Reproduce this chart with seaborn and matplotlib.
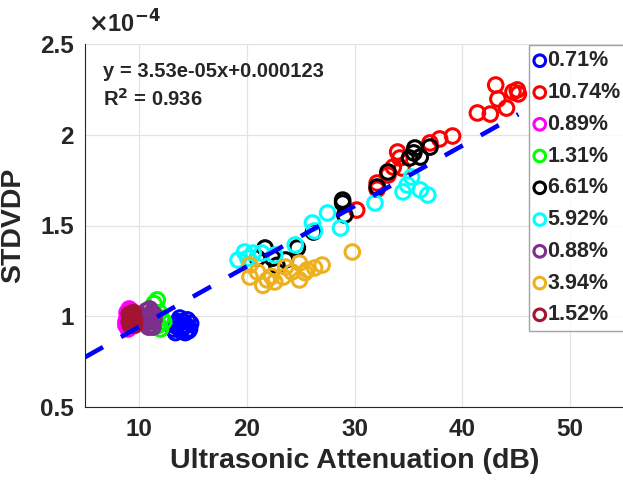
import matplotlib
matplotlib.use("Agg")
import matplotlib.pyplot as plt
import seaborn as sns
import numpy as np

# values in units of 1e-4
labels = ["0.71%", "10.74%", "0.89%", "1.31%", "6.61%", "5.92%", "0.88%", "3.94%", "1.52%"]
colors = ["#0000ff", "#ff0000", "#ff00ff", "#00ff00", "#000000", "#00ffff",
          "#7e2f8e", "#edb120", "#a2142f"]

x_071 = [13.2, 13.5, 13.8, 14.1, 14.4, 14.7, 13.4, 13.9, 14.3, 14.8, 13.6, 14.0, 14.5, 13.3, 14.6]
y_071 = [0.93, 0.96, 0.99, 0.97, 0.95, 0.93, 0.91, 0.92, 0.91, 0.96, 0.97, 0.94, 0.98, 0.95, 0.92]

x_1074 = [43.1, 45.1, 45.2, 44.7, 43.3, 44.1, 41.4, 42.6, 39.1, 37.9, 37.0, 34.0, 34.2, 34.4,
          33.6, 32.1, 33.1, 30.2, 32.1]
y_1074 = [2.274, 2.247, 2.225, 2.236, 2.197, 2.147, 2.12, 2.114, 1.993, 1.977, 1.955, 1.905,
          1.872, 1.817, 1.822, 1.734, 1.778, 1.585, 1.70]

x_089 = [8.8, 8.9, 9.1, 9.3, 8.9, 9.2, 9.0, 9.3, 8.8, 9.1]
y_089 = [0.95, 0.99, 1.04, 1.03, 1.02, 0.96, 0.93, 0.98, 0.97, 1.01]

x_131 = [11.7, 11.4, 11.9, 12.1, 12.3, 11.8, 12.0, 11.6]
y_131 = [1.09, 1.07, 1.02, 0.99, 0.97, 0.95, 0.93, 1.0]

x_661 = [35.6, 37.0, 36.1, 35.1, 33.1, 32.1, 28.9, 28.9, 29.1, 26.2, 24.7, 23.6, 21.7, 22.4, 21.0,
         35.5, 22.8]
y_661 = [1.927, 1.932, 1.877, 1.872, 1.795, 1.712, 1.64, 1.624, 1.558, 1.464, 1.376, 1.31, 1.376,
         1.32, 1.32, 1.90, 1.28]

x_592 = [35.3, 34.9, 34.5, 36.1, 36.8, 31.9, 28.7, 27.5, 26.1, 24.5, 22.6, 19.2, 19.8, 20.6,
         21.4, 20.1, 26.3]
y_592 = [1.767, 1.723, 1.685, 1.696, 1.668, 1.624, 1.486, 1.569, 1.514, 1.393, 1.337, 1.31,
         1.354, 1.348, 1.348, 1.32, 1.47]

x_088 = [10.6, 10.8, 11.0, 11.2, 11.4, 10.7, 10.9, 11.1, 11.3, 10.8, 11.0, 11.2, 11.4, 10.6]
y_088 = [0.96, 1.0, 1.04, 1.02, 0.98, 1.03, 0.94, 0.95, 0.94, 0.97, 0.99, 0.97, 1.01, 1.0]

x_394 = [29.8, 27.0, 26.3, 25.6, 24.9, 24.2, 24.9, 23.4, 22.6, 21.9, 21.0, 20.3, 20.3, 21.5, 23.6,
         22.3, 25.4]
y_394 = [1.354, 1.282, 1.266, 1.255, 1.293, 1.244, 1.2, 1.216, 1.189, 1.2, 1.244, 1.216, 1.282,
         1.17, 1.271, 1.22, 1.24]

x_152 = [9.1, 9.3, 9.5, 9.6, 9.2, 9.4, 9.1, 9.6, 9.3, 9.5, 9.2, 9.4]
y_152 = [0.97, 1.0, 1.02, 0.98, 0.99, 0.96, 1.01, 0.95, 0.97, 0.99, 0.95, 1.01]

xs = [x_071, x_1074, x_089, x_131, x_661, x_592, x_088, x_394, x_152]
ys = [y_071, y_1074, y_089, y_131, y_661, y_592, y_088, y_394, y_152]

# fitted line as drawn (units of 1e-4)
fit_slope = 0.0333
fit_intercept = 0.608

sns.set_style("white")
plt.rcParams["font.family"] = ["Liberation Sans", "DejaVu Sans"]
plt.rcParams["font.weight"] = "bold"

fig = plt.figure(figsize=(6.23, 4.8), dpi=100)
ax = fig.add_axes([85 / 623, 73 / 480, 539 / 623, 363 / 480])
ax.set_xlim(5, 55)
ax.set_ylim(0.5, 2.5)

for x, y, c, lab in zip(xs, ys, colors, labels):
    sns.scatterplot(x=x, y=y, ax=ax, marker="o", s=110, facecolors="none",
                    edgecolor=c, linewidth=2.2, label=lab, zorder=3)

all_x = np.concatenate([np.array(v) for v in xs])
line_x = np.array([ax.get_xlim()[0], all_x.max()])
sns.lineplot(x=line_x, y=fit_slope * line_x + fit_intercept, ax=ax, color="#0000ff",
             linewidth=3.3, linestyle=(0, (4.5, 4.5)), zorder=4, legend=False)

ax.set_xlim(5, 55)
ax.set_ylim(0.5, 2.5)
ax.set_xticks([10, 20, 30, 40, 50])
ax.set_yticks([0.5, 1, 1.5, 2, 2.5])
ax.set_yticklabels(["0.5", "1", "1.5", "2", "2.5"])
ax.grid(True, color="#e3e3e3", linewidth=0.9)
ax.set_axisbelow(True)
sns.despine(ax=ax)
for s in ["left", "bottom"]:
    ax.spines[s].set_color("#262626")
    ax.spines[s].set_linewidth(0.8)
ax.tick_params(direction="in", length=3, width=0.8, labelsize=17.5, pad=8, colors="#262626")
for t in ax.get_xticklabels() + ax.get_yticklabels():
    t.set_fontweight("bold")

ax.set_xlabel("Ultrasonic Attenuation (dB)", fontsize=20.5, fontweight="bold", labelpad=5)
ax.set_ylabel("STDVDP", fontsize=20.5, fontweight="bold", labelpad=10)

ax.text(0.034, 0.925, "y = 3.53e-05x+0.000123", transform=ax.transAxes, fontsize=14.5,
        fontweight="bold", va="center", ha="left")
ax.text(0.034, 0.848, "R$^\\mathbf{2}$ = 0.936", transform=ax.transAxes, fontsize=14.5,
        fontweight="bold", va="center", ha="left")
fig.text(88 / 623, 1 - 33 / 480, "$\\times$10$^{\\mathbf{-4}}$", fontsize=17,
         ha="left", va="baseline", color="#262626")

leg = ax.legend(loc="upper left", bbox_to_anchor=(529 / 623, 435 / 480),
                bbox_transform=fig.transFigure, fontsize=15.5, frameon=True, fancybox=False,
                handlelength=0.5, handletextpad=0.1, labelspacing=0.5, borderpad=0.25,
                borderaxespad=0, markerscale=0.8)
leg.get_frame().set_edgecolor("#8c8c8c")
leg.get_frame().set_linewidth(1.0)
for t in leg.get_texts():
    t.set_fontweight("bold")

fig.savefig("out.png", dpi=100)
